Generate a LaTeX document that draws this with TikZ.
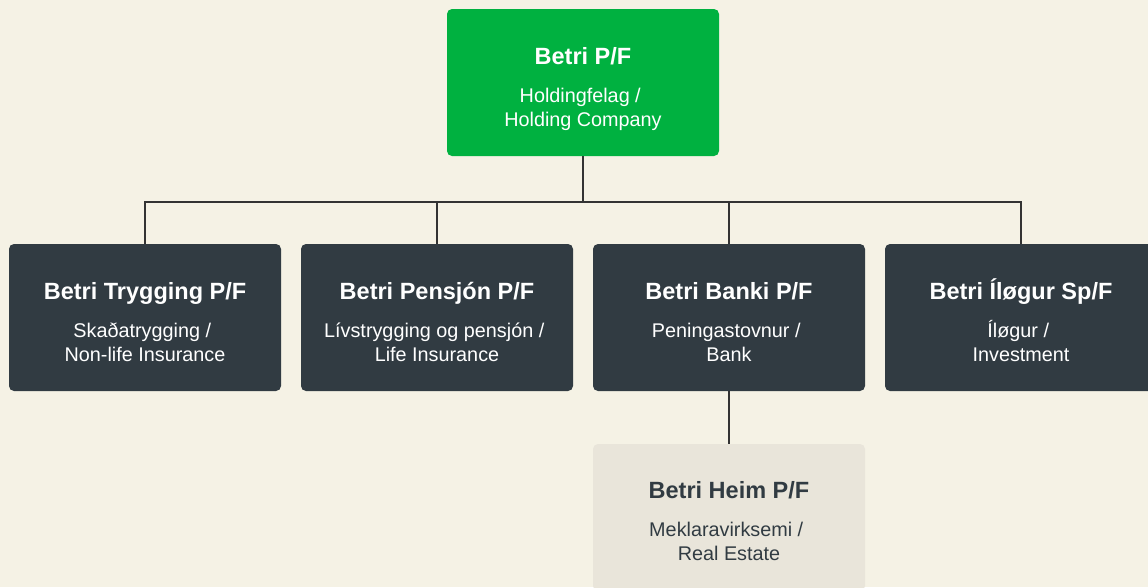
\documentclass[tikz,border=0pt]{standalone}
\usepackage{fontspec}
\setmainfont{Liberation Sans}
\usepackage{xcolor}
\usetikzlibrary{calc}
\definecolor{betribg}{RGB}{245, 242, 229}
\definecolor{betrigreen}{RGB}{0, 177, 64}
\definecolor{betridark}{RGB}{49, 59, 66}
\definecolor{betrilight}{RGB}{233, 229, 218}
\definecolor{betriline}{RGB}{51, 51, 51}

\begin{document}
\begin{tikzpicture}[x=1pt, y=-1pt,
    orgbox/.style={rectangle, rounded corners=5pt, minimum width=272pt,
      minimum height=147pt, inner sep=0pt},
    titletext/.style={anchor=base, inner sep=0pt,
      font=\fontsize{23.5}{28}\selectfont\bfseries},
    bodytext/.style={anchor=base, inner sep=0pt,
      font=\fontsize{19.8}{24}\selectfont},
    link/.style={draw=betriline, line width=1.3pt}]
% Background
\fill[betribg] (0,0) rectangle (1148,587);
\useasboundingbox (0,0) rectangle (1148,587);

% Holding company
\node[orgbox, fill=betrigreen] (holding) at (583,82.5) {};
\node[titletext, white] (holding-title) at ($(holding.north)+(0,56)$) {Betri P/F};
\node[bodytext, white] (holding-a) at ($(holding.north)+(0,94)$) {Holdingfelag /\hphantom{\ }};
\node[bodytext, white] (holding-b) at ($(holding.north)+(0,118)$) {Holding Company};

% Subsidiaries
\node[orgbox, fill=betridark] (trygging) at (145,317.5) {};
\node[titletext, white] (trygging-title) at ($(trygging.north)+(0,56)$) {Betri Trygging P/F};
\node[bodytext, white] (trygging-a) at ($(trygging.north)+(0,94)$) {Skaðatrygging /\hphantom{\ }};
\node[bodytext, white] (trygging-b) at ($(trygging.north)+(0,118)$) {Non-life Insurance};

\node[orgbox, fill=betridark] (pensjon) at (437,317.5) {};
\node[titletext, white] (pensjon-title) at ($(pensjon.north)+(0,56)$) {Betri Pensjón P/F};
\node[bodytext, white] (pensjon-a) at ($(pensjon.north)+(0,94)$) {Lívstrygging og pensjón /\hphantom{\ }};
\node[bodytext, white] (pensjon-b) at ($(pensjon.north)+(0,118)$) {Life Insurance};

\node[orgbox, fill=betridark] (banki) at (729,317.5) {};
\node[titletext, white] (banki-title) at ($(banki.north)+(0,56)$) {Betri Banki P/F};
\node[bodytext, white] (banki-a) at ($(banki.north)+(0,94)$) {Peningastovnur /\hphantom{\ }};
\node[bodytext, white] (banki-b) at ($(banki.north)+(0,118)$) {Bank};

\node[orgbox, fill=betridark] (ilogur) at (1021,317.5) {};
\node[titletext, white] (ilogur-title) at ($(ilogur.north)+(0,56)$) {Betri Íløgur Sp/F};
\node[bodytext, white] (ilogur-a) at ($(ilogur.north)+(0,94)$) {Íløgur /\hphantom{\ }};
\node[bodytext, white] (ilogur-b) at ($(ilogur.north)+(0,118)$) {Investment};

% Under the bank
\node[orgbox, fill=betrilight] (heim) at (729,517.5) {};
\node[titletext, betridark] (heim-title) at ($(heim.north)+(0,55)$) {Betri Heim P/F};
\node[bodytext, betridark] (heim-a) at ($(heim.north)+(0,93)$) {Meklaravirksemi /\hphantom{\ }};
\node[bodytext, betridark] (heim-b) at ($(heim.north)+(0,117)$) {Real Estate};

% Connectors
\coordinate (split) at (583,202);
\foreach \sub in {trygging, pensjon, banki, ilogur} {
    \draw[link] (holding.south) -- (split) -| (\sub.north);
}
\draw[link] (banki.south) -- (heim.north);
\end{tikzpicture}
\end{document}
